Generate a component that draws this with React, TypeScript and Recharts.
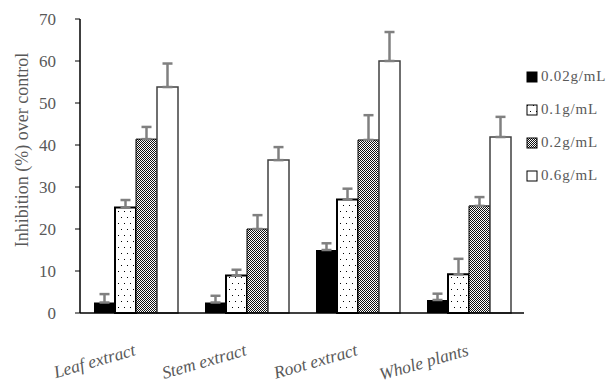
import React from "react";
import {
	Bar,
	BarChart,
	ErrorBar,
	Legend,
	XAxis,
	YAxis,
} from "recharts";

const categories = ["Leaf extract", "Stem extract", "Root extract", "Whole plants"];
const dose002 = [2.5, 2.5, 15, 3.1];
const dose002Err = [2, 1.6, 1.6, 1.5];
const dose01 = [25.1, 8.9, 27, 9.2];
const dose01Err = [1.8, 1.4, 2.6, 3.7];
const dose02 = [41.4, 20, 41.2, 25.5];
const dose02Err = [2.9, 3.3, 5.9, 2.1];
const dose06 = [53.8, 36.4, 60, 41.9];
const dose06Err = [5.6, 3.1, 6.9, 4.8];
const yTicks = [0, 10, 20, 30, 40, 50, 60, 70];

const series = [
	{ key: "d002", name: "0.02g/mL", values: dose002, errors: dose002Err, fill: "#000000", stroke: "#000000", sw: 0 },
	{ key: "d01", name: "0.1g/mL", values: dose01, errors: dose01Err, fill: "url(#dotFill)", stroke: "#000000", sw: 2 },
	{ key: "d02", name: "0.2g/mL", values: dose02, errors: dose02Err, fill: "url(#checkFill)", stroke: "#000000", sw: 1 },
	{ key: "d06", name: "0.6g/mL", values: dose06, errors: dose06Err, fill: "#ffffff", stroke: "#404040", sw: 1.5 },
];

const chartData = categories.map((name, i) => {
	const row: Record<string, number | string | number[]> = { name };
	for (const s of series) {
		row[s.key] = s.values[i];
		// one-sided (upward) error
		row[`${s.key}Err`] = [0, s.errors[i]];
	}
	return row;
});

const FONT = "Liberation Serif, serif";
const TEXT = "#595959";

function CategoryTick(props: any) {
	const { x, y, payload } = props;
	const tx = x + 1;
	const ty = y + 34;
	return (
		<text
			x={tx}
			y={ty}
			transform={`rotate(-16, ${tx}, ${ty})`}
			textAnchor="end"
			fontFamily={FONT}
			fontStyle="italic"
			fontSize={17.5}
			fill={TEXT}
		>
			{payload.value}
		</text>
	);
}

function YTitle() {
	return (
		<text
			x={22}
			y={150}
			transform="rotate(-90, 22, 150)"
			textAnchor="middle"
			dominantBaseline="central"
			fontFamily={FONT}
			fontSize={18}
			fill={TEXT}
		>
			Inhibition (%) over control
		</text>
	);
}

function LegendBox() {
	return (
		<div style={{ fontFamily: FONT, fontSize: 15, color: TEXT }}>
			{series.map((s) => (
				<div
					key={s.key}
					style={{ display: "flex", alignItems: "center", height: 33 }}
				>
					<svg width={13} height={12} style={{ marginRight: 2 }}>
						<rect
							x={1}
							y={1}
							width={10}
							height={10}
							fill={s.fill}
							stroke="#000"
							strokeWidth={1}
						/>
					</svg>
					<span style={{ letterSpacing: 0.8 }}>{s.name}</span>
				</div>
			))}
		</div>
	);
}

export default function App() {
	return (
		<div style={{ position: "absolute", left: 0, top: 0, background: "#fff" }}>
			<svg width={0} height={0} style={{ position: "absolute" }}>
				<defs>
					<pattern id="dotFill" width={6} height={12} patternUnits="userSpaceOnUse">
						<rect width={6} height={12} fill="#fff" />
						<rect x={1} y={1} width={1} height={1} fill="#000" />
						<rect x={4} y={7} width={1} height={1} fill="#000" />
					</pattern>
					<pattern id="checkFill" width={2} height={2} patternUnits="userSpaceOnUse">
						<rect width={2} height={2} fill="#fff" />
						<rect x={0} y={0} width={1} height={1} fill="#111" />
						<rect x={1} y={1} width={1} height={1} fill="#111" />
					</pattern>
				</defs>
			</svg>
			<BarChart
				width={616}
				height={383}
				data={chartData}
				margin={{ top: 19, right: 2, bottom: 40, left: 0 }}
				barCategoryGap={14}
				barGap={0}
			>
				<XAxis
					dataKey="name"
					height={30}
					tickLine={false}
					axisLine={{ stroke: "#000", strokeWidth: 1.5 }}
					tick={<CategoryTick />}
					interval={0}
				/>
				<YAxis
					width={80}
					domain={[0, 70]}
					ticks={yTicks}
					axisLine={{ stroke: "#000", strokeWidth: 1.5 }}
					tickLine={{ stroke: "#000" }}
					tickSize={5}
					tickMargin={19}
					tick={{ fill: TEXT, fontSize: 17, fontFamily: FONT }}
					label={<YTitle />}
				/>
				<Legend
					layout="vertical"
					align="right"
					verticalAlign="top"
					content={<LegendBox />}
					wrapperStyle={{ left: 526, top: 60, width: 90 }}
				/>
				{series.map((s) => (
					<Bar
						key={s.key}
						dataKey={s.key}
						name={s.name}
						fill={s.fill}
						stroke={s.stroke}
						strokeWidth={s.sw}
						isAnimationActive={false}
					>
						<ErrorBar
							dataKey={`${s.key}Err`}
							direction="y"
							width={5}
							stroke="#808080"
							strokeWidth={2.5}
						/>
					</Bar>
				))}
			</BarChart>
		</div>
	);
}
